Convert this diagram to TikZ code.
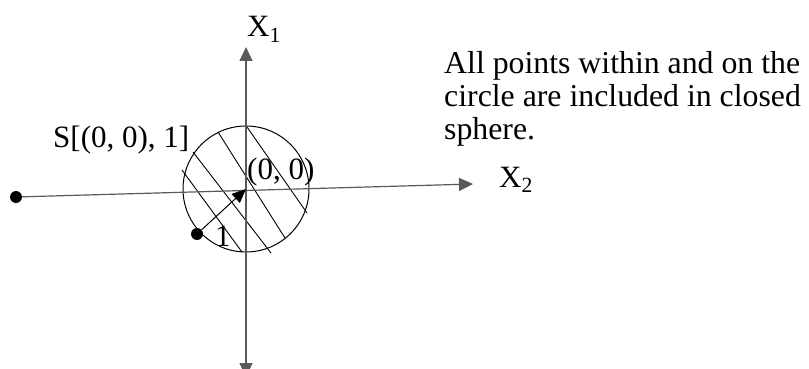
\documentclass[tikz,border=0pt]{standalone}
\usepackage{fontspec}
\setmainfont{Liberation Serif}
\usetikzlibrary{arrows.meta}

\tikzset{
  axis/.style={black!65, line width=1.2pt, -{Triangle[length=14pt,width=13pt]}},
  dot/.style={circle, fill=black, inner sep=0pt, minimum size=12pt},
  lbl/.style={inner sep=0pt, anchor=base west, font=\fontsize{31}{33}\selectfont}
}

\begin{document}
\begin{tikzpicture}[x=1pt,y=-1pt]
  \useasboundingbox (0,0) rectangle (809,369);
  \coordinate (O) at (246,189);
  \coordinate (top) at (246,47);
  \coordinate (bot) at (246,377);
  \coordinate (right) at (473,184);
  % closed sphere with hatching
  \draw[line width=1pt] (O) circle (63);
  \draw[line width=0.9pt] (182,170) -- (242,252);
  \draw[line width=0.9pt] (193,152) -- (271,253);
  \draw[line width=0.9pt] (218,132) -- (285,238);
  \draw[line width=0.9pt] (247,127) -- (307,213);
  % axes
  \node[dot] (left) at (16,197) {};
  \draw[axis] (O) -- (top);
  \draw[axis] (O) -- (bot);
  \draw[axis] (left) -- (right);
  % radius
  \node[dot] (p) at (197,234) {};
  \draw[line width=1pt, -{Triangle[length=14pt,width=12pt]}] (p) -- (O);
  \node[lbl] (x1) at (247,37) {X\textsubscript{1}};
  \node[lbl] (x2) at (499,187) {X\textsubscript{2}};
  \node[lbl] (origin) at (247,179) {(0, 0)};
  \node[lbl] (r) at (215,246) {1};
  \node[lbl] (S) at (53,147) {S[(0, 0), 1]};
  \node[lbl, font=\fontsize{31.8}{33}\selectfont, align=left, anchor=north west] (note) at (444,51) {All points within and on the\\circle are included in closed\\sphere.};
\end{tikzpicture}
\end{document}
